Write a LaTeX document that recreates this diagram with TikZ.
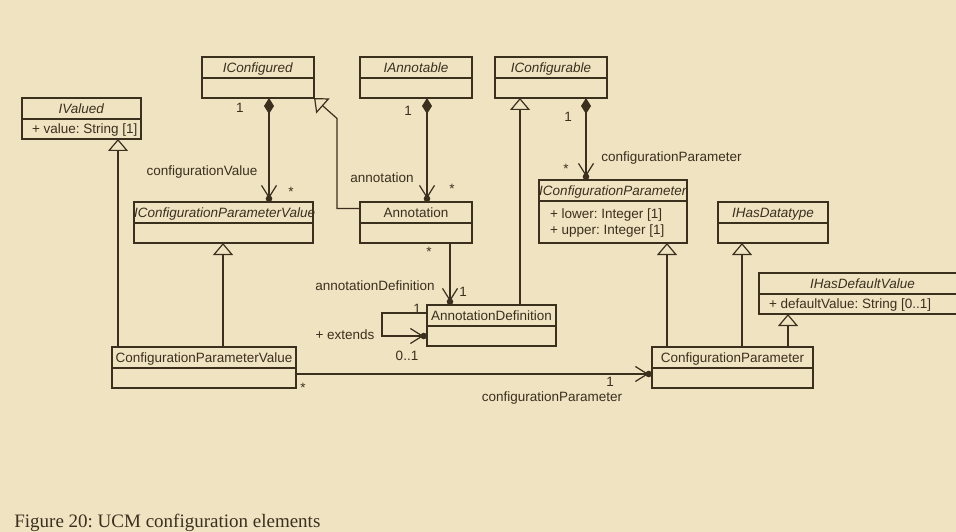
\documentclass[tikz,border=0pt]{standalone}
\usepackage{fontspec}
\setmainfont{Liberation Serif}
\newfontfamily\umlsans{Liberation Sans}
\usetikzlibrary{positioning,arrows.meta}
\definecolor{paper}{HTML}{F0E3C2}
\definecolor{ink}{HTML}{3B2F1E}

\begin{document}
\begin{tikzpicture}[x=1pt,y=-1pt,
  every node/.style={font=\umlsans\frenchspacing\fontsize{13.5}{16}\selectfont, text=ink, outer sep=0pt},
  head/.style={draw=ink, line width=1.2pt, inner sep=0pt, minimum height=21pt, text height=10pt, text depth=0pt, align=center, anchor=north west},
  body/.style={draw=ink, line width=1.2pt, inner sep=0pt, minimum height=20pt},
  attr/.style={anchor=west, align=left, inner sep=0pt},
  link/.style={draw=ink, line width=1.2pt},
  gen/.style={link, -{Triangle[open,length=12pt,width=20pt]}},
  nav/.style={link, -{Straight Barb[length=12pt,width=15pt,sep=-3pt]Circle[length=6.5pt]}},
  comp/.style={nav, {Diamond[length=16pt,width=10pt]}-{Straight Barb[length=12pt,width=15pt,sep=-3pt]Circle[length=6.5pt]}}]
  \useasboundingbox (0,0) rectangle (956,532);
  \clip (0,0) rectangle (956,532);
  \fill[paper] (0,0) rectangle (956,532);

  \node[head, text width=119pt] (iv) at (22,98) {\textit{IValued}};
  \node[body, minimum width=119pt, below=0pt of iv] (ivb) {};
  \node[attr] (ivt) at ([xshift=10pt,yshift=-1pt]ivb.west) {+ value: String [1]};
  \node[head, text width=112pt] (icf) at (202,57) {\textit{IConfigured}};
  \node[body, minimum width=112pt, below=0pt of icf] (icfb) {};
  \node[head, text width=112pt] (ian) at (360,57) {\textit{IAnnotable}};
  \node[body, minimum width=112pt, below=0pt of ian] (ianb) {};
  \node[head, text width=112pt] (icg) at (495,57) {\textit{IConfigurable}};
  \node[body, minimum width=112pt, below=0pt of icg] (icgb) {};
  \node[head, text width=179pt] (icpv) at (134,202) {\textit{IConfigurationParameterValue}};
  \node[body, minimum width=179pt, below=0pt of icpv] (icpvb) {};
  \node[head, text width=112pt] (ann) at (360,202) {Annotation};
  \node[body, minimum width=112pt, below=0pt of ann] (annb) {};
  \node[head, text width=148pt] (icp) at (539,180) {\textit{IConfigurationParameter}};
  \node[body, minimum width=148pt, minimum height=42pt, below=0pt of icp] (icpb) {};
  \node[attr] (icpt) at ([xshift=11pt,yshift=-1pt]icpb.west) {+ lower: Integer [1]\\+ upper: Integer [1]};
  \node[head, text width=110pt] (ihd) at (718,202) {\textit{IHasDatatype}};
  \node[body, minimum width=110pt, below=0pt of ihd] (ihdb) {};
  \node[head, text width=207pt] (ihv) at (759,273) {\textit{IHasDefaultValue}};
  \node[body, minimum width=207pt, below=0pt of ihv] (ihvb) {};
  \node[attr] (ihvt) at ([xshift=10pt,yshift=-1pt]ihvb.west) {+ defaultValue: String [0..1]};
  \node[head, text width=129pt] (ad) at (427,305) {AnnotationDefinition};
  \node[body, minimum width=129pt, below=0pt of ad] (adb) {};
  \node[head, text width=184pt] (cpv) at (112,347) {ConfigurationParameterValue};
  \node[body, minimum width=184pt, below=0pt of cpv] (cpvb) {};
  \node[head, text width=161pt] (cp) at (652,347) {ConfigurationParameter};
  \node[body, minimum width=161pt, below=0pt of cp] (cpb) {};

  \draw[gen] ([xshift=6pt]cpv.north west) -- ([xshift=96pt]ivb.south west);
  \draw[gen] ([xshift=111pt]cpv.north west) -- ([xshift=89pt]icpvb.south west);
  \draw[comp] ([xshift=67pt]icfb.south west) -- ([xshift=135pt]icpv.north west);
  \draw[gen] ([yshift=4pt]ann.west) -- ++(-23,0) -- ++(0,-90) -- (icfb.south east);
  \draw[comp] ([xshift=11pt]ianb.south) -- ([xshift=11pt]ann.north);
  \draw[comp] ([xshift=91pt]icgb.south west) -- ([xshift=47pt]icp.north west);
  \draw[gen] ([xshift=93pt]ad.north west) -- ([xshift=25pt]icgb.south west);
  \draw[nav] ([xshift=90pt]annb.south west) -- ([xshift=23pt]ad.north west);
  \draw[nav] ([yshift=2.5pt]ad.west) -- ++(-45,0) |- (adb.west);
  \draw[nav] ([yshift=4pt]cpvb.east) -- ([yshift=4pt]cpb.west);
  \draw[gen] ([xshift=15pt]cp.north west) -- ([xshift=128pt]icpb.south west);
  \draw[gen] ([xshift=90pt]cp.north west) -- ([xshift=24pt]ihdb.south west);
  \draw[gen] ([xshift=136pt]cp.north west) -- ([xshift=29pt]ihvb.south west);

  \node (m1) at (240,108) {1};
  \node (r1) at (202,172) {configurationValue};
  \node (m2) at (291,192) {*};
  \node (m3) at (408,111) {1};
  \node (r2) at (382,178) {annotation};
  \node (m4) at (452,189) {*};
  \node (m5) at (568,117) {1};
  \node (m6) at (566,169) {*};
  \node[anchor=west] (r3) at (598,158) {configurationParameter};
  \node (m7) at (429,252) {*};
  \node (r4) at (375,286) {annotationDefinition};
  \node (m8) at (463,292) {1};
  \node (m9) at (417,309) {1};
  \node (r5) at (345,335) {+ extends};
  \node (m10) at (407,356) {0..1};
  \node (m11) at (303,388) {*};
  \node (m12) at (610,382) {1};
  \node (r6) at (552,398) {configurationParameter};

  \node[anchor=base west, font=\rmfamily\frenchspacing\fontsize{19}{22}\selectfont] (cap) at (11,527) {Figure 20: UCM configuration elements};
\end{tikzpicture}
\end{document}
